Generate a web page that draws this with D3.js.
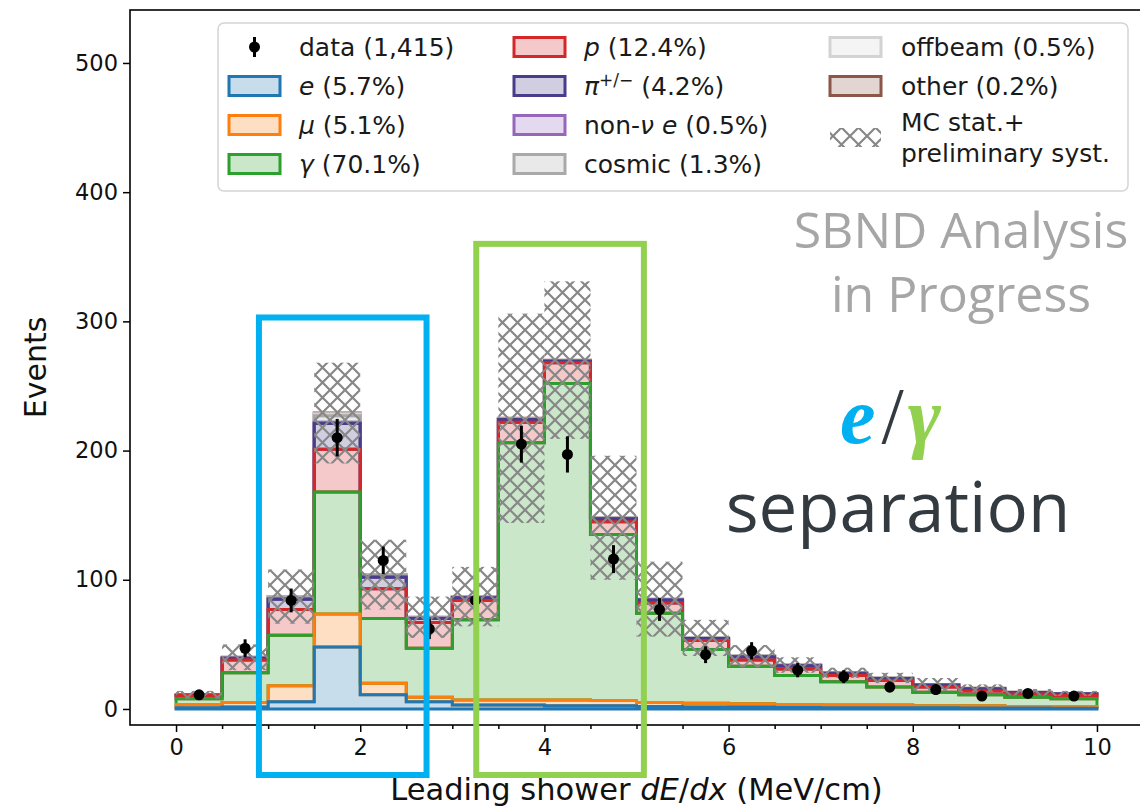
<!DOCTYPE html>
<html>
<head>
<meta charset="utf-8">
<script src="https://cdn.jsdelivr.net/npm/d3@7"></script>
<style>
  body { margin: 0; background: #fff; }
  svg { display: block; }
</style>
</head>
<body>
<svg id="chart" width="1140" height="809"></svg>
<script>
// ---- histogram binning (Leading shower dE/dx, MeV/cm) ----
const binEdges = [0, 0.5, 1, 1.5, 2, 2.5, 3, 3.5, 4, 4.5, 5, 5.5, 6, 6.5, 7, 7.5, 8, 8.5, 9, 9.5, 10];

// ---- stacked MC components, events per bin ----
const eCounts       = [1, 1.5, 5.5, 48, 11, 5.5, 3, 3, 2.5, 2.5, 2, 1.5, 1.5, 1.2, 1, 1, 1, 0.8, 0.7, 0.6];
const muCounts      = [2.5, 3.5, 12.5, 25.5, 9, 3.5, 4, 4, 4.5, 4, 3, 3, 2.5, 2.3, 2, 2, 1.5, 1.7, 1.3, 1.4];
const gammaCounts   = [4.5, 23, 39, 94.5, 50, 38, 62, 199, 245, 128.5, 69, 41.5, 29, 22.5, 18, 14, 10.5, 8.5, 7, 6];
const pCounts       = [2.5, 10, 20, 33, 23, 20, 15, 16, 16, 10, 8, 7, 5, 5, 5, 5, 4, 3, 2.5, 2.5];
const piCounts      = [0.3, 1.2, 8, 20, 9, 3, 2, 2, 1.2, 2.2, 2.3, 1.5, 2.4, 2.5, 1.6, 1.6, 1.6, 1.7, 1.2, 1.2];
const nonNuECounts  = [0, 0.2, 0.5, 1, 0.5, 0.3, 0.3, 0.3, 0.3, 0.2, 0.2, 0.1, 0.1, 0.1, 0, 0, 0, 0, 0, 0];
const cosmicCounts  = [0.2, 0.4, 1, 5, 1, 0.5, 0.5, 0.4, 0.3, 0.4, 0.3, 0.3, 0.3, 0.2, 0.2, 0.2, 0.2, 0.2, 0.2, 0.2];
const offbeamCounts = [0, 0.2, 0.3, 1.5, 0.3, 0.2, 0.2, 0.2, 0.1, 0.2, 0.2, 0.1, 0.2, 0.2, 0.2, 0.2, 0.2, 0.1, 0.1, 0.1];
const otherCounts   = [0, 0, 0.2, 0.5, 0.2, 0, 0, 0.1, 0.1, 0, 0, 0, 0, 0, 0, 0, 0, 0, 0, 0];

// MC stat. + preliminary syst. half-width around the stacked total
const mcUncertainty = [3, 10, 21, 39, 27, 16, 23, 81, 61, 48, 29, 14, 8.5, 6, 4, 4, 5, 3, 2.5, 2];

// ---- data ----
const dataCounts = [11, 47, 84, 210, 115, 62, 84, 205, 197, 116, 77, 42, 45, 30, 25, 17, 15, 10, 12, 10];
const dataErrors = [3.3, 6.9, 9.2, 14.5, 10.7, 7.9, 9.2, 14.3, 14.0, 10.8, 8.8, 6.5, 6.7, 5.5, 5.0, 4.1, 3.9, 3.2, 3.5, 3.2];

// ---- axes ----
const xMajorTicks = [0, 2, 4, 6, 8, 10];
const xTickLabels = ['0', '2', '4', '6', '8', '10'];
const xMinorTicks = [0.5, 1, 1.5, 2.5, 3, 3.5, 4.5, 5, 5.5, 6.5, 7, 7.5, 8.5, 9, 9.5];
const yMajorTicks = [0, 100, 200, 300, 400, 500];
const yTickLabels = ['0', '100', '200', '300', '400', '500'];

// highlight regions (x in MeV/cm, y in events)
const highlightBoxes = [
  { x0: 0.90, x1: 2.72, top: 303, color: '#00b0f0' },
  { x0: 3.26, x1: 5.08, top: 360, color: '#92d050' }
];

const layers = [
  { key: 'e',       counts: eCounts,       color: '#1f77b4' },
  { key: 'mu',      counts: muCounts,      color: '#ff7f0e' },
  { key: 'gamma',   counts: gammaCounts,   color: '#2ca02c' },
  { key: 'p',       counts: pCounts,       color: '#d62728' },
  { key: 'pi',      counts: piCounts,      color: '#483d8b' },
  { key: 'nonnue',  counts: nonNuECounts,  color: '#9467bd' },
  { key: 'cosmic',  counts: cosmicCounts,  color: '#a9a9a9' },
  { key: 'offbeam', counts: offbeamCounts, color: '#d3d3d3' },
  { key: 'other',   counts: otherCounts,   color: '#8c564b' }
];

const nBins = binEdges.length - 1;
let running = binEdges.slice(1).map(() => 0);
layers.forEach(l => {
  l.lo = running.slice();
  l.hi = running.map((b, i) => b + l.counts[i]);
  running = l.hi;
});
const totals = running;

const plot = { left: 130, right: 1143, top: 10, bottom: 725 };
const x = d3.scaleLinear().domain([-0.5, 10.5]).range([plot.left, plot.right]);
const y = d3.scaleLinear().domain([-12.4, 541]).range([plot.bottom, plot.top]);

const svg = d3.select('#chart');
const defs = svg.append('defs');

function addHatch(id, size, color, width) {
  const pat = defs.append('pattern')
    .attr('id', id).attr('patternUnits', 'userSpaceOnUse')
    .attr('width', size).attr('height', size);
  const s = size;
  pat.append('path')
    .attr('d', `M0,0L${s},${s}M${s},0L0,${s}M-2,${s - 2}L2,${s + 2}M${s - 2},-2L${s + 2},2M-2,2L2,-2M${s - 2},${s + 2}L${s + 2},${s - 2}`)
    .attr('stroke', color).attr('stroke-width', width).attr('fill', 'none');
}
addHatch('hatch', 15, '#878787', 2.2);

// closed step polygon between lower and upper cumulative edges
function stepPolygon(lo, hi) {
  const pts = [];
  pts.push([x(binEdges[0]), y(lo[0])]);
  for (let i = 0; i < nBins; i++) {
    pts.push([x(binEdges[i]), y(hi[i])]);
    pts.push([x(binEdges[i + 1]), y(hi[i])]);
  }
  for (let i = nBins - 1; i >= 0; i--) {
    pts.push([x(binEdges[i + 1]), y(lo[i])]);
    pts.push([x(binEdges[i]), y(lo[i])]);
  }
  return 'M' + pts.map(p => p.join(',')).join('L') + 'Z';
}

const gStack = svg.append('g');
// higher layers first so that lower layers sit on top
layers.slice().reverse().forEach(l => {
  gStack.append('path')
    .attr('d', stepPolygon(l.lo, l.hi))
    .attr('fill', l.color).attr('fill-opacity', 0.25)
    .attr('stroke', l.color).attr('stroke-width', 3)
    .attr('stroke-linejoin', 'miter');
});

// uncertainty band
svg.append('g').selectAll('rect')
  .data(totals)
  .join('rect')
  .attr('x', (d, i) => x(binEdges[i]))
  .attr('width', (d, i) => x(binEdges[i + 1]) - x(binEdges[i]))
  .attr('y', (d, i) => y(d + mcUncertainty[i]))
  .attr('height', (d, i) => y(d - mcUncertainty[i]) - y(d + mcUncertainty[i]))
  .attr('fill', 'url(#hatch)');

// data points
const centers = binEdges.slice(0, -1).map((e, i) => (e + binEdges[i + 1]) / 2);
const gData = svg.append('g');
gData.selectAll('line')
  .data(dataCounts)
  .join('line')
  .attr('x1', (d, i) => x(centers[i])).attr('x2', (d, i) => x(centers[i]))
  .attr('y1', (d, i) => y(d - dataErrors[i])).attr('y2', (d, i) => y(d + dataErrors[i]))
  .attr('stroke', '#000').attr('stroke-width', 3);
gData.selectAll('circle')
  .data(dataCounts)
  .join('circle')
  .attr('cx', (d, i) => x(centers[i])).attr('cy', d => y(d))
  .attr('r', 5.5).attr('fill', '#000');

// frame
svg.append('rect')
  .attr('x', plot.left).attr('y', plot.top)
  .attr('width', plot.right - plot.left).attr('height', plot.bottom - plot.top)
  .attr('fill', 'none').attr('stroke', '#000').attr('stroke-width', 1.6);

const tickFont = 'DejaVu Sans';
const yAxis = svg.append('g')
  .attr('transform', `translate(${plot.left},0)`)
  .call(d3.axisLeft(y).tickValues(yMajorTicks).tickFormat((d, i) => yTickLabels[i]).tickSize(7).tickPadding(5));
const xAxis = svg.append('g')
  .attr('transform', `translate(0,${plot.bottom})`)
  .call(d3.axisBottom(x).tickValues(xMajorTicks).tickFormat((d, i) => xTickLabels[i]).tickSize(7).tickPadding(7));
const xMinor = svg.append('g')
  .attr('transform', `translate(0,${plot.bottom})`)
  .call(d3.axisBottom(x).tickValues(xMinorTicks).tickFormat('').tickSize(4));
[yAxis, xAxis, xMinor].forEach(g => {
  g.select('.domain').remove();
  g.selectAll('.tick line').attr('stroke', '#000').attr('stroke-width', 1.5);
  g.selectAll('.tick text').attr('font-family', tickFont).attr('font-size', 22.5).attr('fill', '#111');
});

// axis titles
const xTitle = svg.append('text')
  .attr('x', (plot.left + plot.right) / 2).attr('y', 800)
  .attr('text-anchor', 'middle')
  .attr('font-family', tickFont).attr('font-size', 30.5).attr('fill', '#111');
xTitle.append('tspan').text('Leading shower ');
xTitle.append('tspan').attr('font-style', 'italic').text('dE');
xTitle.append('tspan').text('/');
xTitle.append('tspan').attr('font-style', 'italic').text('dx');
xTitle.append('tspan').text(' (MeV/cm)');

svg.append('text')
  .attr('transform', `translate(46,${(plot.top + plot.bottom) / 2}) rotate(-90)`)
  .attr('text-anchor', 'middle')
  .attr('font-family', tickFont).attr('font-size', 30).attr('fill', '#111')
  .text('Events');

// legend
const legend = svg.append('g').attr('font-family', tickFont).attr('font-size', 25).attr('fill', '#1a1a1a');
legend.append('rect')
  .attr('x', 218).attr('y', 23).attr('width', 910).attr('height', 168).attr('rx', 6)
  .attr('fill', '#fff').attr('fill-opacity', 0.85)
  .attr('stroke', '#d4d4d4').attr('stroke-width', 1.5);

const colX = [229, 514, 830];
const textX = [299, 584, 901];
const rowY = [47, 86, 125, 164];

function legendLabel(col, row, parts) {
  const t = legend.append('text').attr('x', textX[col]).attr('y', rowY[row]).attr('dy', '0.36em');
  parts.forEach(p => {
    const s = t.append('tspan').text(p.t);
    if (p.i) s.attr('font-style', 'italic');
    if (p.sup) s.attr('font-size', 17).attr('baseline-shift', '55%');
  });
}
function legendPatch(col, row, color) {
  legend.append('rect')
    .attr('x', colX[col]).attr('y', rowY[row] - 9.5).attr('width', 51).attr('height', 19)
    .attr('fill', color).attr('fill-opacity', 0.25)
    .attr('stroke', color).attr('stroke-width', 3);
}

// data entry
legend.append('line')
  .attr('x1', colX[0] + 25.5).attr('x2', colX[0] + 25.5)
  .attr('y1', rowY[0] - 10).attr('y2', rowY[0] + 10)
  .attr('stroke', '#000').attr('stroke-width', 3);
legend.append('circle').attr('cx', colX[0] + 25.5).attr('cy', rowY[0]).attr('r', 5.5).attr('fill', '#000');
legendLabel(0, 0, [{ t: 'data (1,415)' }]);

legendPatch(0, 1, layers[0].color); legendLabel(0, 1, [{ t: 'e', i: true }, { t: ' (5.7%)' }]);
legendPatch(0, 2, layers[1].color); legendLabel(0, 2, [{ t: 'μ', i: true }, { t: ' (5.1%)' }]);
legendPatch(0, 3, layers[2].color); legendLabel(0, 3, [{ t: 'γ', i: true }, { t: ' (70.1%)' }]);
legendPatch(1, 0, layers[3].color); legendLabel(1, 0, [{ t: 'p', i: true }, { t: ' (12.4%)' }]);
legendPatch(1, 1, layers[4].color); legendLabel(1, 1, [{ t: 'π', i: true }, { t: '+/−', sup: true }, { t: '  (4.2%)' }]);
legendPatch(1, 2, layers[5].color); legendLabel(1, 2, [{ t: 'non-' }, { t: 'ν', i: true }, { t: ' ' }, { t: 'e', i: true }, { t: ' (0.5%)' }]);
legendPatch(1, 3, layers[6].color); legendLabel(1, 3, [{ t: 'cosmic (1.3%)' }]);
legendPatch(2, 0, layers[7].color); legendLabel(2, 0, [{ t: 'offbeam (0.5%)' }]);
legendPatch(2, 1, layers[8].color); legendLabel(2, 1, [{ t: 'other (0.2%)' }]);

addHatch('hatchLegend', 17, '#878787', 2.2);
legend.append('rect')
  .attr('x', colX[2]).attr('y', 128).attr('width', 51).attr('height', 19)
  .attr('fill', 'url(#hatchLegend)');
legend.append('text').attr('x', textX[2]).attr('y', 122).attr('dy', '0.36em').text('MC stat.+');
legend.append('text').attr('x', textX[2]).attr('y', 153).attr('dy', '0.36em').text('preliminary syst.');

// highlight boxes
svg.append('g').selectAll('rect')
  .data(highlightBoxes)
  .join('rect')
  .attr('x', d => x(d.x0)).attr('width', d => x(d.x1) - x(d.x0))
  .attr('y', d => y(d.top)).attr('height', d => 775 - y(d.top))
  .attr('fill', 'none').attr('stroke', d => d.color).attr('stroke-width', 6);

// annotations
const note = svg.append('g').attr('font-family', 'Open Sans').attr('fill', '#a6a6a6').attr('font-size', 50).attr('text-anchor', 'middle');
note.append('text').attr('x', 961).attr('y', 248).text('SBND Analysis');
note.append('text').attr('x', 961).attr('y', 312).text('in Progress');

const eg = svg.append('text')
  .attr('x', 840).attr('y', 443)
  .attr('font-family', 'Liberation Serif').attr('font-size', 80);
eg.append('tspan').attr('font-weight', 'bold').attr('font-style', 'italic').attr('fill', '#00b0f0').text('e');
eg.append('tspan').attr('fill', '#333a40').attr('dx', 6).text('/');
eg.append('tspan').attr('font-weight', 'bold').attr('font-style', 'italic').attr('fill', '#92d050').attr('dx', 4).text('γ');

svg.append('text')
  .attr('x', 898).attr('y', 532)
  .attr('text-anchor', 'middle')
  .attr('font-family', 'Open Sans').attr('font-size', 69).attr('fill', '#333a40')
  .text('separation');
</script>
</body>
</html>
